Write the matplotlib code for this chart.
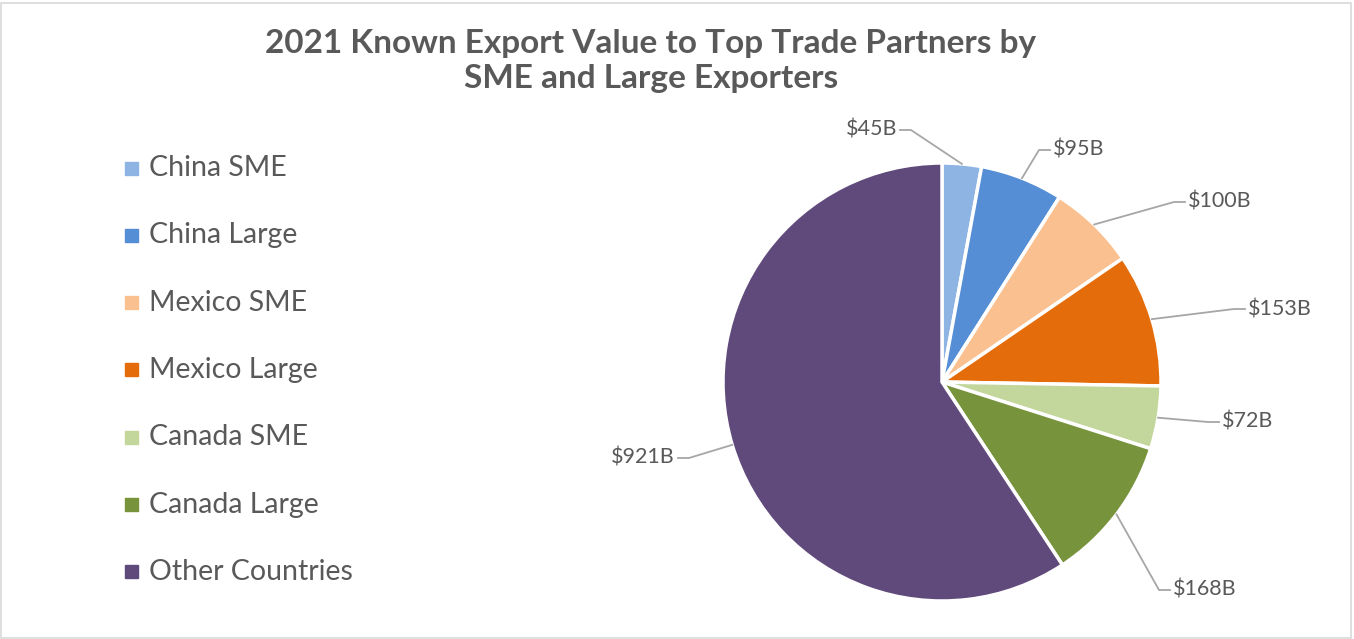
import numpy as np
import matplotlib.pyplot as plt
from matplotlib.patches import Rectangle

# datos
categorias = ['China SME', 'China Large', 'Mexico SME', 'Mexico Large',
              'Canada SME', 'Canada Large', 'Other Countries']
valores = [45, 95, 100, 153, 72, 168, 921]
etiquetas = ['$45B', '$95B', '$100B', '$153B', '$72B', '$168B', '$921B']
colores = ['#8EB4E3', '#558ED5', '#FAC090', '#E46C0A', '#C3D69B', '#77933C', '#604A7B']

# posicion de las etiquetas (pixeles, origen arriba-izquierda) y alineacion
pos_etq = [(897, 130, 'right'), (1053, 150, 'left'), (1188, 202, 'left'),
           (1248, 309, 'left'), (1222, 422, 'left'), (1173, 590, 'left'),
           (675, 458, 'right')]

W, H = 1354, 639
cx, cy, r = 942, 382, 219
gris = '#595959'
plt.rcParams['font.family'] = ['Lato', 'DejaVu Sans']

fig = plt.figure(figsize=(W / 100, H / 100), dpi=100)
ax = fig.add_axes([0, 0, 1, 1])

wedges, _ = ax.pie(valores, colors=colores, startangle=90, counterclock=False,
                   radius=r, center=(cx, H - cy),
                   wedgeprops=dict(edgecolor='white', linewidth=2.5))
ax.set_xlim(0, W)
ax.set_ylim(0, H)
ax.set_aspect('equal')
ax.axis('off')

# etiquetas con lineas guia
total = sum(valores)
acum = np.cumsum([0] + valores[:-1])
for i, (v, a) in enumerate(zip(valores, acum)):
    ang = np.deg2rad((a + v / 2) / total * 360)
    ex = cx + r * np.sin(ang)
    ey = cy - r * np.cos(ang)
    tx, ty, ha = pos_etq[i]
    s = 1 if ha == 'left' else -1
    xs = [ex, tx - s * 14, tx - s * 3]
    ys = [ey, ty, ty]
    ax.plot(xs, [H - y for y in ys], color='#A6A6A6', lw=1.3, zorder=1)
    ax.text(tx, H - ty, etiquetas[i], ha=ha, va='center', fontsize=15.5, color=gris)

# leyenda manual
for i, (cat, col) in enumerate(zip(categorias, colores)):
    y = 168 + 67.3 * i
    ax.add_patch(Rectangle((125, H - y - 6.5), 13, 13, color=col))
    ax.text(149, H - y, cat, ha='left', va='center', fontsize=20.5, color=gris)

ax.text(651, H - 61, '2021 Known Export Value to Top Trade Partners by\nSME and Large Exporters',
        ha='center', va='center', fontsize=24, fontweight='bold', color=gris,
        linespacing=1.22)

# borde
ax.add_patch(Rectangle((1, 1), W - 4, H - 4, fill=False, edgecolor='#D9D9D9', lw=1.2))

fig.savefig('out.png', dpi=100)
